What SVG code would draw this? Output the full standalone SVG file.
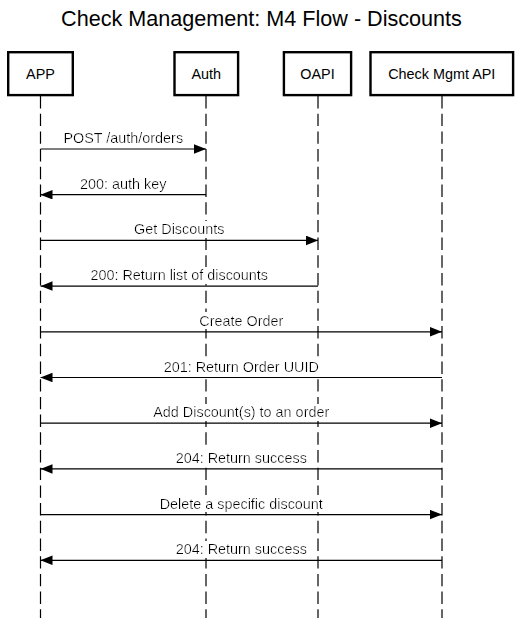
<svg xmlns="http://www.w3.org/2000/svg" width="523" height="618" viewBox="0 0 523 618">
  <style>
    .box { fill: #ffffff; stroke: #000000; stroke-width: 2.4; }
    .life { stroke: #000000; stroke-width: 1.2; stroke-dasharray: 12.4 5.3; fill: none; }
    .msg { stroke: #000000; stroke-width: 1.2; fill: none; marker-end: url(#arr); }
    .t { font-family: "Liberation Sans", Arial, sans-serif; font-size: 14.4px; fill: #000000; text-anchor: middle; }
    .lbl { filter: url(#bg); }
    .title { font-family: "Liberation Sans", Arial, sans-serif; font-size: 21.6px; fill: #000000; text-anchor: middle; }
  </style>
  <defs>
    <marker id="arr" markerUnits="userSpaceOnUse" markerWidth="12" markerHeight="10" refX="12" refY="4.75" orient="auto">
      <path d="M0,0 L12,4.75 L0,9.5 z" fill="#000000"/>
    </marker>
    <filter id="bg" x="-0.01" y="0" width="1.02" height="1">
      <feFlood flood-color="#ffffff"/>
      <feMerge>
        <feMergeNode/>
        <feMergeNode in="SourceGraphic"/>
      </feMerge>
    </filter>
  </defs>
  <rect x="0" y="0" width="523" height="618" fill="#ffffff"/>
  <text class="title" x="261.5" y="26">Check Management: M4 Flow - Discounts</text>

  <g id="node-app">
    <line class="life" x1="40.5" y1="96" x2="40.5" y2="618"/>
    <rect class="box" x="8.2" y="52.2" width="64.6" height="42.9"/>
    <text class="t" x="40.5" y="79">APP</text>
  </g>
  <g id="node-auth">
    <line class="life" x1="206" y1="96" x2="206" y2="618"/>
    <rect class="box" x="174.5" y="52.2" width="63.6" height="42.9"/>
    <text class="t" x="206.3" y="79">Auth</text>
  </g>
  <g id="node-oapi">
    <line class="life" x1="318" y1="96" x2="318" y2="618"/>
    <rect class="box" x="283.9" y="52.2" width="67.2" height="42.9"/>
    <text class="t" x="317.5" y="79">OAPI</text>
  </g>
  <g id="node-check">
    <line class="life" x1="442" y1="96" x2="442" y2="618"/>
    <rect class="box" x="370.5" y="52.2" width="142.6" height="42.9"/>
    <text class="t" x="441.8" y="79">Check Mgmt API</text>
  </g>

  <g id="connectors">
    <g id="m1">
      <line class="msg" x1="40.5" y1="149" x2="206" y2="149"/>
      <text class="t lbl" x="123.25" y="143">POST /auth/orders</text>
    </g>
    <g id="m2">
      <line class="msg" x1="206" y1="194.7" x2="40.5" y2="194.7"/>
      <text class="t lbl" x="123.25" y="188.7">200: auth key</text>
    </g>
    <g id="m3">
      <line class="msg" x1="40.5" y1="240.4" x2="318" y2="240.4"/>
      <text class="t lbl" x="179.25" y="234.4">Get Discounts</text>
    </g>
    <g id="m4">
      <line class="msg" x1="318" y1="286.1" x2="40.5" y2="286.1"/>
      <text class="t lbl" x="179.25" y="280.1">200: Return list of discounts</text>
    </g>
    <g id="m5">
      <line class="msg" x1="40.5" y1="331.8" x2="442" y2="331.8"/>
      <text class="t lbl" x="241.25" y="325.8">Create Order</text>
    </g>
    <g id="m6">
      <line class="msg" x1="442" y1="377.5" x2="40.5" y2="377.5"/>
      <text class="t lbl" x="241.25" y="371.5">201: Return Order UUID</text>
    </g>
    <g id="m7">
      <line class="msg" x1="40.5" y1="423.2" x2="442" y2="423.2"/>
      <text class="t lbl" x="241.25" y="417.2">Add Discount(s) to an order</text>
    </g>
    <g id="m8">
      <line class="msg" x1="442" y1="468.9" x2="40.5" y2="468.9"/>
      <text class="t lbl" x="241.25" y="462.9">204: Return success</text>
    </g>
    <g id="m9">
      <line class="msg" x1="40.5" y1="514.6" x2="442" y2="514.6"/>
      <text class="t lbl" x="241.25" y="508.6">Delete a specific discount</text>
    </g>
    <g id="m10">
      <line class="msg" x1="442" y1="560.3" x2="40.5" y2="560.3"/>
      <text class="t lbl" x="241.25" y="554.3">204: Return success</text>
    </g>
  </g>
</svg>
